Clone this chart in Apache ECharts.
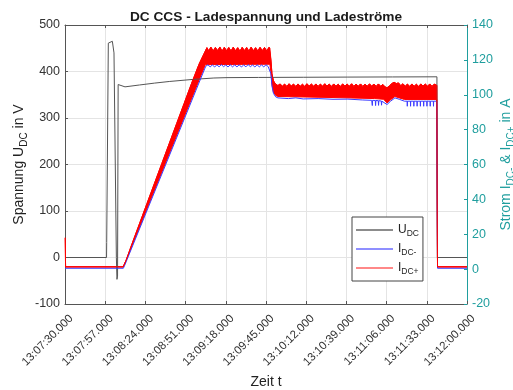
<!DOCTYPE html>
<html>
<head>
<meta charset="utf-8">
<script src="https://cdn.jsdelivr.net/npm/echarts@6/dist/echarts.min.js"></script>
<style>
  html, body { margin: 0; padding: 0; background: #fff; }
  #chart { width: 513px; height: 390px; }
</style>
</head>
<body>
<div id="chart"></div>
<script>
// Time is given in seconds after 13:07:30.000
const xStep = 27;
const xTickLabels = ['13:07:30.000', '13:07:57.000', '13:08:24.000', '13:08:51.000', '13:09:18.000',
  '13:09:45.000', '13:10:12.000', '13:10:39.000', '13:11:06.000', '13:11:33.000', '13:12:00.000'];

// Ladespannung U_DC in V
const uDC = [
  [0, 0], [27.9, 0], [28.0, 32], [28.9, 32], [29.1, 461], [29.5, 465], [31.8, 465], [32.4, 462],
  [32.9, 440], [34.5, 0], [34.9, -47], [35.3, -40], [35.7, 372], [36.8, 370], [40.3, 367],
  [50, 371], [60, 375], [70, 378.5], [86, 383], [100, 386], [108.8, 386.8], [130, 387.2],
  [160, 387.6], [190, 388], [220, 388.3], [249.8, 388.6], [250.1, 0], [270, 0]
];

// Ladestrom I_DC- in A
const iDCminus = [
  [0, 0.5], [39.2, 0.5], [40, 2.0], [94.5, 116.3],
  [96, 117.2], [97.5, 116], [99, 117.1], [100.5, 115.9], [102, 117.2], [103.5, 116], [105, 117.3],
  [106.5, 116.1], [108, 117.1], [109.5, 115.9], [111, 117.2], [112.5, 116], [114, 117.1], [115.5, 116],
  [117, 117.2], [118.5, 115.9], [120, 117.1], [121.5, 116], [123, 117.3], [124.5, 116.1], [126, 117.1],
  [127.5, 115.9], [129, 117.2], [130.5, 116], [132, 117.1], [133.5, 116], [135, 117.2], [136.5, 116.1],
  [137.6, 116.6], [138.3, 112], [139, 105], [140, 100.8], [141.5, 98.8], [143, 98.2],
  [150, 97.8], [155, 98.2], [160, 97.6], [170, 97.8], [180, 97.4], [190, 97.5], [200, 97], [206, 96.8],
  [206.4, 93.8], [206.6, 96.8], [208.4, 96.7], [208.6, 93.8], [208.8, 96.7], [210.4, 96.6], [210.6, 93.9],
  [210.8, 96.6], [212.4, 96.4], [212.6, 94.0], [212.8, 96.3],
  [216.3, 94.4], [218.5, 96.2], [221.6, 98.2], [224.5, 97.4], [228, 96.3],
  [229.8, 96.3], [229.9, 93.4], [230.0, 96.3], [232.0, 96.3], [232.1, 93.4], [232.2, 96.3],
  [234.2, 96.3], [234.3, 93.4], [234.4, 96.3], [236.4, 96.3], [236.5, 93.4], [236.6, 96.3],
  [238.6, 96.3], [238.7, 93.4], [238.8, 96.3], [240.8, 96.3], [240.9, 93.4], [241.0, 96.3],
  [243.0, 96.3], [243.1, 93.4], [243.2, 96.3], [245.2, 96.3], [245.3, 93.4], [245.4, 96.3],
  [247.4, 96.3], [247.5, 93.4], [247.6, 96.3],
  [249.7, 96.3], [250.2, 0.5], [270, 0.5]
];

// Ladestrom I_DC+ in A: upper and lower envelope of the ripple
const iDCplusHigh = [
  [0, 18], [0.4, 1.3], [39.0, 1.3],
  [41, 5], [45, 14.5], [50, 26], [55, 37.5], [60, 49], [65, 60.5], [70, 72], [75, 83.5],
  [80, 95], [85, 106.5], [90, 117.5], [95.3, 127],
  [96.5, 125.2], [98, 127.3], [99.5, 125.1], [101, 127.1], [102.5, 125.3], [104, 127.4], [105.5, 125],
  [107, 127.2], [108.5, 125.2], [110, 127.1], [111.5, 125.1], [113, 127.3], [114.5, 125.2], [116, 127],
  [117.5, 125], [119, 127.2], [120.5, 125.3], [122, 127.1], [123.5, 125], [125, 127.3], [126.5, 125.2],
  [128, 127], [129.5, 125.1], [131, 127.2], [132.5, 125.3], [134, 127.1], [135.5, 125.1], [137, 127.2],
  [137.6, 126.8], [138.3, 120], [139, 112], [140, 108], [141.5, 106], [143, 105.3],
  [144.5, 106.2], [146, 104.9], [147.5, 106.1], [149, 104.8], [150.5, 106.3], [152, 105], [153.5, 106.1],
  [155, 104.8], [156.5, 106.2], [158, 104.9], [159.5, 106], [161, 104.8], [162.5, 106.3], [164, 105],
  [165.5, 106.1], [167, 104.9], [168.5, 106.2], [170, 104.8], [171.5, 106.1], [173, 104.9], [174.5, 106.3],
  [176, 105], [177.5, 106.1], [179, 104.8], [180.5, 106.2], [182, 104.9], [183.5, 106], [185, 104.8],
  [186.5, 106.2], [188, 105], [189.5, 106.1], [191, 104.9], [192.5, 106.3], [194, 104.8], [195.5, 106.1],
  [197, 104.9], [198.5, 106.2], [200, 104.8], [201.5, 106], [203, 104.9], [204.5, 106.2], [206, 105],
  [207.5, 106.1], [209, 104.8], [210.5, 106.2], [212, 104.9], [213.5, 105.9],
  [214.8, 104.6], [216.3, 104.0], [218, 105.2], [219.5, 106.4], [221, 107.2], [222.5, 106.4], [224, 106.8],
  [225.5, 105.2], [227, 106.3], [228.5, 104.9], [230, 106.1], [231.5, 104.8], [233, 106.2], [234.5, 104.9],
  [236, 106], [237.5, 104.8], [239, 106.2], [240.5, 105], [242, 106.1], [243.5, 104.9], [245, 106.2],
  [246.5, 104.8], [248, 106.1], [249.7, 105.4], [250.2, 1.3], [270, 1.3]
];
const iDCplusLow = [
  [0, 1.3], [39.2, 1.3], [40, 2.8], [94.3, 117.3], [137.6, 117.5], [138.3, 113], [139, 106],
  [140, 101.6], [141.5, 99.6], [143, 99], [180, 98.4], [208, 97.8], [214, 97.4], [216.3, 95.3],
  [218.5, 97], [221.6, 99], [224.5, 98.2], [228, 97.3], [249.7, 97.3], [250.2, 1.3], [270, 1.3]
];

const FONT = '"Liberation Sans", Arial, Helvetica, sans-serif';
const AXIS_GRAY = '#555555';
const TEAL = '#1f9e9e';
const GRID_GRAY = '#e4e4e4';

// rich style for lowered index text (DC, DC-, DC+)
function subRich(subSize) {
  return {
    s: { fontSize: subSize, lineHeight: subSize, verticalAlign: 'bottom', fontFamily: FONT }
  };
}

const chart = echarts.init(document.getElementById('chart'), null, { renderer: 'canvas' });

const option = {
  animation: false,
  backgroundColor: '#ffffff',
  textStyle: { fontFamily: FONT },
  title: {
    text: 'DC CCS - Ladespannung und Ladeströme',
    left: 266,
    textAlign: 'center',
    top: 10,
    padding: 0,
    textStyle: { fontFamily: FONT, fontSize: 13.7, fontWeight: 'bold', color: '#1a1a1a' }
  },
  grid: { left: 65, right: 46, top: 25, bottom: 86, containLabel: false, outerBoundsMode: 'none' },
  legend: {
    orient: 'vertical',
    left: 352,
    top: 217,
    padding: [5, 4, 5, 4],
    itemGap: 3,
    itemWidth: 37,
    itemHeight: 1.4,
    icon: 'rect',
    backgroundColor: '#ffffff',
    borderColor: '#444444',
    borderWidth: 1,
    data: ['U_DC', 'I_DC-', 'I_DC+'],
    formatter: (name) => {
      const i = name.indexOf('_');
      return name.slice(0, i) + '{s|' + name.slice(i + 1) + '}';
    },
    textStyle: {
      fontFamily: FONT, fontSize: 12, color: '#222', lineHeight: 16,
      rich: subRich(8.5)
    }
  },
  xAxis: [{
    type: 'value',
    min: 0, max: 270, interval: xStep,
    name: 'Zeit t',
    nameLocation: 'middle',
    nameGap: 71,
    nameMoveOverlap: false,
    nameTextStyle: { fontFamily: FONT, fontSize: 14, color: '#222' },
    axisLine: { show: true, onZero: false, lineStyle: { color: AXIS_GRAY, width: 1 } },
    axisTick: { show: true, inside: true, length: 3, lineStyle: { color: AXIS_GRAY } },
    splitLine: { show: true, lineStyle: { color: GRID_GRAY, width: 1 } },
    axisLabel: {
      rotate: 45,
      margin: 19,
      padding: [0, -9, 0, 0],
      fontFamily: FONT, fontSize: 11.5, color: '#333',
      formatter: (v) => xTickLabels[Math.round(v / xStep)] || ''
    }
  }, {
    type: 'value',
    position: 'top',
    min: 0, max: 270, interval: xStep,
    axisLine: { show: true, onZero: false, lineStyle: { color: AXIS_GRAY, width: 1 } },
    axisTick: { show: true, inside: true, length: 3, lineStyle: { color: AXIS_GRAY } },
    axisLabel: { show: false },
    splitLine: { show: false }
  }],
  yAxis: [{
    type: 'value',
    position: 'left',
    min: -100, max: 500, interval: 100,
    name: 'Spannung U{s|DC} in V',
    nameLocation: 'middle',
    nameRotate: 90,
    nameGap: 36,
    nameMoveOverlap: false,
    nameTextStyle: {
      fontFamily: FONT, fontSize: 14, color: '#222', lineHeight: 19,
      rich: subRich(10)
    },
    axisLine: { show: true, onZero: false, lineStyle: { color: AXIS_GRAY, width: 1 } },
    axisTick: { show: true, inside: true, length: 3, lineStyle: { color: AXIS_GRAY } },
    splitLine: { show: true, lineStyle: { color: GRID_GRAY, width: 1 } },
    axisLabel: { margin: 5, fontFamily: FONT, fontSize: 12.5, color: '#333' }
  }, {
    type: 'value',
    position: 'right',
    min: -20, max: 140, interval: 20,
    name: 'Strom I{s|DC-} & I{s|DC+} in A',
    nameLocation: 'middle',
    nameRotate: 90,
    nameGap: 30,
    nameMoveOverlap: false,
    nameTextStyle: {
      fontFamily: FONT, fontSize: 14, color: TEAL, lineHeight: 19,
      rich: subRich(10)
    },
    axisLine: { show: true, onZero: false, lineStyle: { color: TEAL, width: 1 } },
    axisTick: { show: true, inside: true, length: 3, lineStyle: { color: TEAL } },
    splitLine: { show: false },
    axisLabel: { margin: 5, fontFamily: FONT, fontSize: 12.5, color: TEAL }
  }],
  series: [
    {
      name: 'U_DC', type: 'line', xAxisIndex: 0, yAxisIndex: 0,
      data: uDC, symbol: 'none', showSymbol: false,
      lineStyle: { color: '#555555', width: 1 }, itemStyle: { color: '#666666' }
    },
    {
      name: 'I_DC-', type: 'line', xAxisIndex: 0, yAxisIndex: 1,
      data: iDCminus, symbol: 'none', showSymbol: false,
      lineStyle: { color: '#3a3aff', width: 1 }, itemStyle: { color: '#6a6aff' }
    },
    {
      // filled ripple band of I_DC+ between its envelopes
      name: 'I_DC+ Welligkeit', type: 'custom', xAxisIndex: 0, yAxisIndex: 1,
      data: [[0, 0]],
      clip: true,
      renderItem: (params, api) => {
        if (params.dataIndex !== 0) return null;
        const pts = iDCplusHigh.map((p) => api.coord(p))
          .concat(iDCplusLow.slice().reverse().map((p) => api.coord(p)));
        return {
          type: 'polygon',
          shape: { points: pts },
          style: { fill: '#ff0000', stroke: '#ff0000', lineWidth: 1 }
        };
      }
    },
    {
      name: 'I_DC+', type: 'line', xAxisIndex: 0, yAxisIndex: 1,
      data: iDCplusHigh, symbol: 'none', showSymbol: false,
      lineStyle: { color: '#ff0000', width: 1 }, itemStyle: { color: '#ff6060' }
    }
  ]
};

chart.setOption(option);
</script>
</body>
</html>
